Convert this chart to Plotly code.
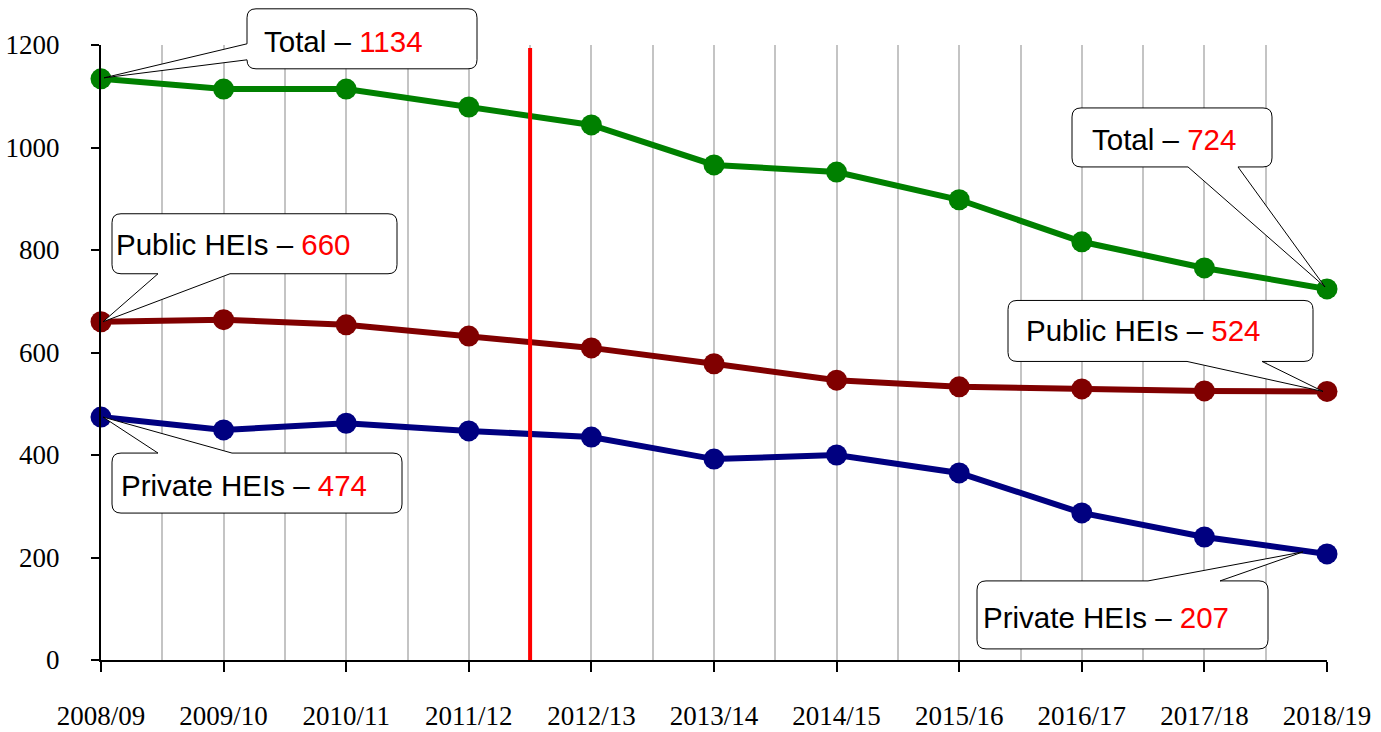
import plotly.graph_objects as go

years = ["2008/09", "2009/10", "2010/11", "2011/12", "2012/13", "2013/14",
         "2014/15", "2015/16", "2016/17", "2017/18", "2018/19"]
total = [1134, 1114, 1114, 1079, 1044, 966, 952, 898, 816, 765, 724]
public = [660, 664, 654, 632, 609, 578, 546, 533, 529, 525, 524]
private = [474, 449, 462, 447, 435, 392, 400, 365, 287, 240, 207]
series_names = ["Total", "Public HEIs", "Private HEIs"]
series_values = [total, public, private]
series_colors = ["#008000", "#800000", "#000080"]
y_ticks = [0, 200, 400, 600, 800, 1000, 1200]
reform_position = 3.5  # between 2011/12 and 2012/13

xs = list(range(len(years)))
X_RANGE = [0, len(years) - 1]
Y_RANGE = [0, 1200]

fig = go.Figure()
for name, vals, col in zip(series_names, series_values, series_colors):
    fig.add_trace(go.Scatter(
        x=xs, y=vals, mode="lines+markers", name=name,
        line=dict(color=col, width=6),
        marker=dict(color=col, size=21),
        cliponaxis=False, showlegend=False,
    ))

# red vertical marker line
fig.add_shape(type="line", xref="x", yref="y", x0=reform_position, x1=reform_position,
              y0=0, y1=1194, line=dict(color="#ff0000", width=4), layer="above")


def bubble_path(L, T, R, B, edge, w1, w2, apex, r=9):
    """Speech bubble in screen-relative pixels (y down); returns plotly pixel path (y up)."""
    ax, ay = apex
    cmds = []

    def P(x, y):
        return f"{x},{-y}"
    cmds.append(f"M{P(L + r, T)}")
    if edge == "top":
        cmds.append(f"L{P(w1, T)}")
        cmds.append(f"L{P(ax, ay)}")
        cmds.append(f"L{P(w2, T)}")
    cmds.append(f"L{P(R - r, T)}")
    cmds.append(f"Q{P(R, T)} {P(R, T + r)}")
    cmds.append(f"L{P(R, B - r)}")
    cmds.append(f"Q{P(R, B)} {P(R - r, B)}")
    if edge == "bottom":
        cmds.append(f"L{P(w2, B)}")
        cmds.append(f"L{P(ax, ay)}")
        cmds.append(f"L{P(w1, B)}")
    cmds.append(f"L{P(L + r, B)}")
    cmds.append(f"Q{P(L, B)} {P(L, B - r)}")
    if edge == "left":
        cmds.append(f"L{P(L, w2)}")
        cmds.append(f"L{P(ax, ay)}")
        cmds.append(f"L{P(L, w1)}")
    cmds.append(f"L{P(L, T + r)}")
    cmds.append(f"Q{P(L, T)} {P(L + r, T)}")
    cmds.append("Z")
    return " ".join(cmds)


# (series index, point index, box L,T,R,B, wedge edge, w1, w2, apex, text dx, text dy)
callouts = [
    (0, 0, (146, -70, 376, -10), "left", -35, -19, (3, -1), 163, -37),
    (0, 10, (-255, -181, -55, -122), "bottom", -139, -89, (-2, -2), -235, -149),
    (1, 0, (11, -108, 296, -48), "bottom", 57, 129, (2, 0), 15, -77),
    (1, 10, (-319, -91, -14, -30), "bottom", -140, -65, (-4, 0), -301, -61),
    (2, 0, (11, 36, 301, 96), "top", 57, 131, (2, 0), 20, 68),
    (2, 10, (-350, 27, -59, 95), "top", -179, -107, (-24, -2), -344, 64),
]

for si, pi, (L, T, R, B), edge, w1, w2, apex, tdx, tdy in callouts:
    xv = xs[pi]
    yv = series_values[si][pi]
    # anchor expressed as a fraction of the axis domain (avoids clipping to the plot area)
    xf = (xv - X_RANGE[0]) / (X_RANGE[1] - X_RANGE[0])
    yf = (yv - Y_RANGE[0]) / (Y_RANGE[1] - Y_RANGE[0])
    fig.add_shape(type="path", xref="x domain", yref="y domain",
                  xsizemode="pixel", ysizemode="pixel",
                  xanchor=xf, yanchor=yf,
                  path=bubble_path(L, T, R, B, edge, w1, w2, apex),
                  line=dict(color="#000000", width=1), fillcolor="#ffffff", layer="above")
    fig.add_annotation(x=xv, y=yv, xref="x", yref="y", showarrow=False,
                       xanchor="left", yanchor="middle", xshift=tdx - 2, yshift=-tdy,
                       text=f"{series_names[si]} – <span style='color:#ff0000'>{yv}</span>",
                       font=dict(family="Liberation Sans, Arial, sans-serif", size=29.5, color="#000000"))

fig.update_layout(
    width=1381, height=732,
    margin=dict(l=101, r=54, t=45, b=72, autoexpand=False),
    paper_bgcolor="#ffffff", plot_bgcolor="#ffffff",
    font=dict(family="Liberation Serif, Times New Roman, serif", size=27, color="#000000"),
)
fig.update_xaxes(
    range=X_RANGE, tickmode="array", tickvals=xs, ticktext=years,
    showline=True, linecolor="#000000", linewidth=2,
    ticks="outside", ticklen=10, tickwidth=2, tickcolor="#000000",
    ticklabelstandoff=21, automargin=False,
    showgrid=True, gridcolor="#c4c4c4", gridwidth=2, zeroline=False,
    minor=dict(dtick=0.5, tick0=0, showgrid=True, gridcolor="#c4c4c4", gridwidth=2, ticks=""),
    fixedrange=True,
)
fig.update_yaxes(
    range=Y_RANGE, tickmode="array", tickvals=y_ticks,
    showline=True, linecolor="#000000", linewidth=2,
    ticks="outside", ticklen=8, tickwidth=2, tickcolor="#000000",
    ticklabelstandoff=26, automargin=False,
    showgrid=False, zeroline=False, fixedrange=True,
)

fig.write_html("out.html", config={"displayModeBar": False},
               post_script="document.body.style.margin='0';document.body.style.overflow='hidden';")
